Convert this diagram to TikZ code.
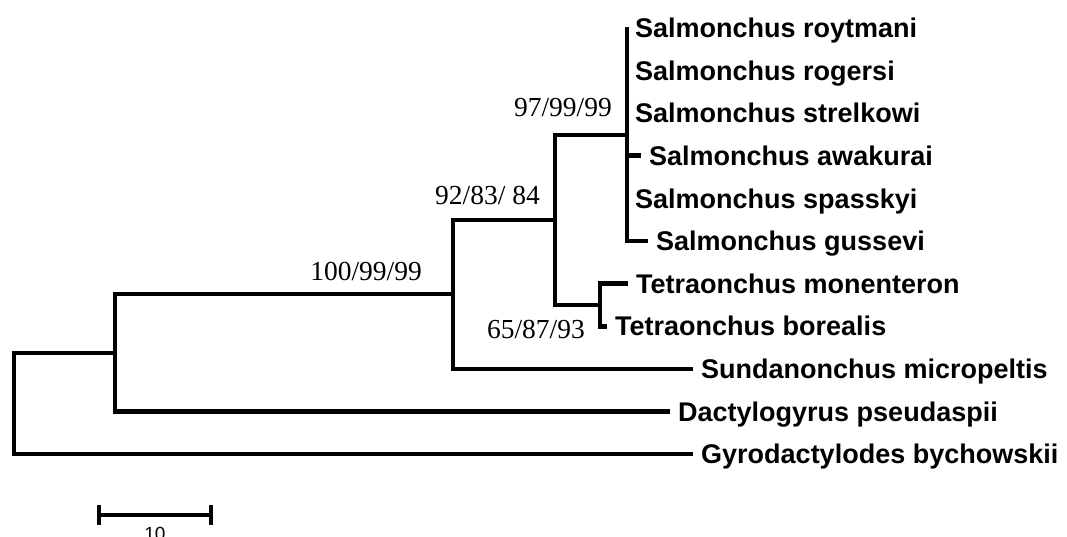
\documentclass[tikz,border=0pt]{standalone}
\usepackage{fontspec}
\setmainfont{Liberation Serif}
\newfontfamily\arialfam{Liberation Sans}
\begin{document}
\begin{tikzpicture}[x=1pt,y=-1pt,
  branch/.style={line width=4.6pt},
  taxon/.style={font=\arialfam\bfseries\fontsize{27}{30}\selectfont,
    anchor=base west, inner sep=0pt, xshift=8pt, yshift=-9.7pt},
  support/.style={font=\fontsize{27.5}{30}\selectfont,
    anchor=base east, inner sep=0pt},
  scalelabel/.style={font=\arialfam\fontsize{19}{22}\selectfont,
    anchor=base, inner sep=0pt}]
\useasboundingbox (0,0) rectangle (1067,537);
\clip (0,0) rectangle (1067,537);

% internal nodes of the tree
\coordinate (root) at (14,353);
\coordinate (n1) at (115,353);
\coordinate (n2) at (453,294);
\coordinate (n3) at (555,220);
\coordinate (n4) at (600,305);
\coordinate (n5) at (627,135);

% branch tips
\coordinate (tRoy) at (627,27);
\coordinate (tRog) at (627,70.6);
\coordinate (tStr) at (627,113.2);
\coordinate (tAwa) at (641,155.8);
\coordinate (tSpa) at (627,198.4);
\coordinate (tGus) at (648,241);
\coordinate (tMon) at (628,283.6);
\coordinate (tBor) at (607,326.2);
\coordinate (tSun) at (693,368.8);
\coordinate (tDac) at (670,411.4);
\coordinate (tGyr) at (693,454);

% branches
\draw[branch] (tGyr) -| (root) -- (n1);
\draw[branch] (tDac) -| (n1) |- (n2);
\draw[branch] (tSun) -| (n2) |- (n3);
\draw[branch] (n4) -| (n3) |- (n5);
\draw[branch] (tMon) -| (n4) |- (tBor);
\draw[branch] (tRoy) |- (tGus);
\draw[branch] (n5 |- tAwa) -- (tAwa);

% taxa
\node[taxon] (roy) at ([yshift=-1pt]tRoy) {Salmonchus roytmani};
\node[taxon] (rog) at (tRog) {Salmonchus rogersi};
\node[taxon] (str) at (tStr) {Salmonchus strelkowi};
\node[taxon] (awa) at (tAwa) {Salmonchus awakurai};
\node[taxon] (spa) at (tSpa) {Salmonchus spasskyi};
\node[taxon] (gus) at (tGus) {Salmonchus gussevi};
\node[taxon] (mon) at (tMon) {Tetraonchus monenteron};
\node[taxon] (bor) at (tBor) {Tetraonchus borealis};
\node[taxon] (sun) at (tSun) {Sundanonchus micropeltis};
\node[taxon] (dac) at (tDac) {Dactylogyrus pseudaspii};
\node[taxon] (gyr) at (tGyr) {Gyrodactylodes bychowskii};

% support values
\node[support] (s5) at (612,117) {97/99/99};
\node[support] (s3) at (540,205) {92/83/ 84};
\node[support] (s2) at (422,280) {100/99/99};
\node[support] (s4) at (585,338) {65/87/93};

% scale bar
\coordinate (b0) at (99,515);
\coordinate (b1) at (211,515);
\draw[branch] (b0) -- (b1);
\draw[branch] ([yshift=10pt]b0) -- ([yshift=-10pt]b0);
\draw[branch] ([yshift=10pt]b1) -- ([yshift=-10pt]b1);
\node[scalelabel] (bl) at (155,540.6) {10};
\end{tikzpicture}
\end{document}
